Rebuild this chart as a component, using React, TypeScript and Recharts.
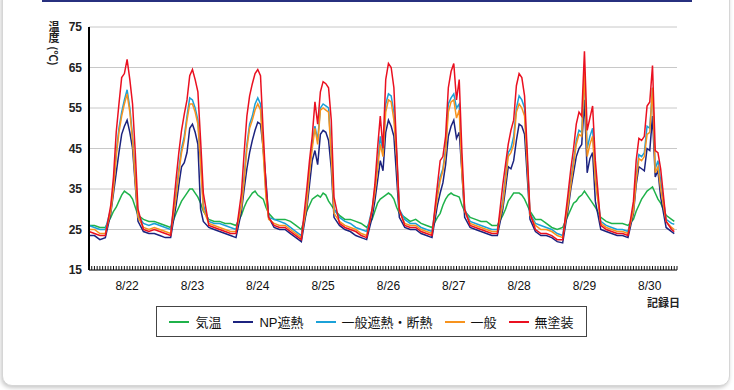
import React from 'react';
import { LineChart, Line, XAxis, YAxis, CartesianGrid } from 'recharts';

// 記録日 labels, one per day
const dayLabels = ['8/22', '8/23', '8/24', '8/25', '8/26', '8/27', '8/28', '8/29', '8/30'];
// readings per day: every 2 h at night, hourly in the daytime
const dayHours = [0, 2, 4, 6, 8, 9, 10, 11, 12, 13, 14, 15, 16, 17, 18, 20, 22];
const lastHour = 215;
const labelHour = 14;
const yTicks = [15, 25, 35, 45, 55, 65, 75];

// 気温
const airTemp = [
  26, 26, 25.5, 25.5, 28, 29.5, 30.5, 32, 33.5, 34.5, 34, 33.5, 32.5, 30.5, 28.5, 27.5, 27,
  27, 26.5, 26, 25.5, 29, 30.5, 32, 33, 34, 35, 35, 34, 33, 31.5, 29.5, 27.5, 27,
  27, 26.5, 26.5, 26, 28.5, 30.5, 32, 33, 34, 34.5, 33.5, 33, 32.5, 30.5, 29, 27.5, 27.5,
  27.5, 27, 26, 25, 29.5, 31, 32.5, 33, 33.5, 33, 34, 33.5, 32, 31, 30, 28.5, 27.5,
  27.5, 27, 26.5, 25.5, 27.5, 29.5, 31.5, 32.5, 33, 33.5, 34, 33.5, 32.5, 30.5, 29, 28, 27,
  27.5, 26.5, 26, 25.5, 28, 29, 31, 32.5, 33.5, 34, 33.5, 33.3, 33, 31, 29.5, 28, 27.5,
  27, 27, 26, 26, 28.5, 30, 32, 33, 34, 34, 34, 33.5, 32.5, 31, 29.5, 27.5, 27.5,
  26.5, 25.5, 25, 25.5, 28.5, 30, 31.5, 32, 33, 33.5, 34.5, 33.5, 32.5, 31.5, 30.5, 28, 27,
  26.5, 26.5, 26.5, 26, 27.5, 29.5, 31, 32.5, 33.5, 34.5, 35, 35.5, 34, 32.5, 31.5, 28.5, 27.5,
  27,
];

// NP遮熱
const npCoat = [
  23.5, 23.5, 22.5, 23, 29, 34, 39, 44, 48.5, 50.5, 52, 49, 45, 36, 27, 24.5, 24,
  24, 23.5, 23, 23, 31, 36, 40.5, 41.5, 44, 50, 51, 49, 46, 30, 27, 25.5, 25,
  24.5, 24, 23.5, 23, 29.5, 35, 40, 44, 47, 49.5, 51.5, 51, 45, 37, 28, 25.5, 25,
  25, 24, 23, 22, 30, 36, 42, 44.5, 41, 48.5, 49.5, 49, 47, 40, 28, 26, 25,
  24.5, 23.5, 23, 22.5, 28, 32, 37, 42, 39.5, 49, 52, 50.5, 48, 38, 28, 25.5, 25,
  25, 24, 23.5, 23, 31, 34, 36.5, 41, 48, 50.5, 52, 47.5, 49, 39, 28, 25.5, 25,
  24.5, 24, 23.5, 23.5, 30, 35, 40.5, 40, 42, 47, 51, 50.5, 48.5, 38, 27.5, 24.5, 23.5,
  23.5, 23, 22, 21.7, 30, 35, 39, 43, 45, 46, 57, 39, 42.5, 44, 32, 25, 24.5,
  24, 23.5, 23.5, 23, 29, 36, 40.5, 40, 39.5, 45, 44.5, 53, 38, 39.5, 33, 25.5, 24.5,
  24,
];

// 一般遮熱・断熱
const heatShield = [
  26, 25.5, 25, 25, 30, 36, 44, 50, 54, 57, 59.5, 55, 48, 38, 28.5, 26.5, 26,
  26.5, 26, 25.5, 25, 34, 40, 45, 48, 53, 57.5, 57, 55, 52, 42, 31, 27, 26.5,
  26.5, 26, 25.5, 25, 31, 38, 46, 51, 53, 56, 57.5, 56, 45, 34, 28, 27.5, 27,
  26.5, 25.5, 24.5, 23.5, 32, 40, 46, 50.5, 47, 55, 56, 55.5, 55, 44, 30, 28, 27,
  26.5, 25.5, 25, 24.5, 30, 35, 41, 48, 44, 56, 58.5, 58, 54, 44, 30, 27.5, 26.5,
  26.5, 25.5, 25, 24.5, 34, 38, 40, 45, 56, 57.5, 58.5, 55, 56, 40, 30, 27, 26.5,
  26, 25.5, 25, 25, 32, 38, 44, 45, 48, 55, 58, 57, 55, 42, 29, 26.5, 26,
  25.5, 25, 24, 23.5, 32, 37, 42, 47, 49.5, 49, 63, 45, 48, 50, 38, 27, 26,
  25.5, 25, 25, 24.5, 30, 38, 43.5, 43, 44, 50.5, 50, 60, 40, 42, 37, 27.5, 26.5,
  26.3,
];

// 一般
const standard = [
  25, 25, 24, 24, 29.5, 35, 43, 49, 53, 56, 58.5, 54, 47, 37, 28, 25.5, 25,
  25.5, 25, 24.5, 24, 33, 39, 44, 47, 52, 56, 56, 54, 51, 41, 30, 26.5, 26,
  25.5, 25, 24.5, 24.5, 30.5, 37, 45, 50, 52, 54.5, 56, 54.5, 44, 33, 27.5, 26.5, 26,
  26, 25, 24, 23, 31, 39, 45, 50, 46, 54.5, 55, 54.5, 54, 43, 29, 27, 26,
  25.5, 25, 24, 23.5, 29.5, 34, 40, 46, 43, 54, 57, 56.5, 52, 43, 29.5, 26.5, 26,
  26, 25, 24.5, 24, 33, 37, 39.5, 44, 54, 56.5, 57, 52.5, 54.5, 39, 29.5, 26.5, 26,
  25.5, 25, 24.5, 24.5, 31, 37, 43, 44, 46, 54, 56, 55, 53, 41, 28.5, 26, 25,
  25, 24.5, 23.5, 23, 31, 36, 41, 46, 48.5, 48, 64, 43, 46, 48, 37, 26.5, 25.5,
  25, 24.5, 24.5, 24, 29.5, 37, 42.5, 42, 43, 48.5, 49, 60, 39, 40.5, 35, 27, 25.5,
  25,
];

// 無塗装
const uncoated = [
  24.5, 24, 23.5, 23.5, 31, 38, 49, 56, 62.5, 63.5, 67, 62, 56, 44, 30, 25, 24.5,
  25, 24.5, 24, 23.5, 37.5, 44, 49.5, 53.5, 57, 63, 64.5, 62, 59, 47, 34, 26, 25.5,
  25, 24.5, 24, 24, 34, 44, 53, 58, 61, 63.5, 64.5, 63, 49, 36, 28, 26, 25.5,
  25.5, 24.5, 23.5, 22.5, 35, 42, 48, 56.5, 51, 59, 61.5, 61, 60, 52, 33, 26.5, 25.5,
  25, 24.5, 23.5, 23, 30, 36, 45, 53, 45, 62, 66, 65, 60, 45, 30, 26, 25.5,
  25.5, 24.5, 24, 23.5, 36, 42, 43, 48, 60, 64, 66, 57, 62, 44, 30, 26, 25.5,
  25, 24.5, 24, 24, 36, 41, 46, 49.5, 52, 60.5, 63.5, 62.5, 58, 44, 29, 25, 24,
  24, 23.5, 22.5, 22.5, 34, 40, 45, 51, 54, 53, 69, 49.5, 52.5, 55.5, 42, 26, 25,
  24.5, 24, 24, 23.5, 32, 42, 47.5, 47, 48, 55.5, 56.5, 65.5, 44.5, 44, 40, 27, 25,
  24.5,
];

const series = [
  { key: 'air', name: '気温', color: '#1fb24a', values: airTemp },
  { key: 'np', name: 'NP遮熱', color: '#1c237f', values: npCoat },
  { key: 'shield', name: '一般遮熱・断熱', color: '#1ba1d8', values: heatShield },
  { key: 'std', name: '一般', color: '#f7931e', values: standard },
  { key: 'bare', name: '無塗装', color: '#ea1020', values: uncoated },
];

const times = dayLabels
  .flatMap((_, d) => dayHours.map((h) => d * 24 + h))
  .concat([lastHour]);

const data = times.map((t, i) => {
  const row: Record<string, number> = { t };
  series.forEach((s) => {
    row[s.key] = s.values[i];
  });
  return row;
});

const hourTicks = Array.from({ length: dayLabels.length * 24 + 1 }, (_, i) => i);

const latin = '"Liberation Sans", Arial, sans-serif';
const cjk = '"Liberation Sans", "Noto Sans CJK JP", sans-serif';

const HourTick = (props: any) => {
  const { x, y, payload } = props;
  const h = payload.value as number;
  const day = Math.floor(h / 24);
  const showLabel = h % 24 === labelHour && day < dayLabels.length;
  return (
    <g>
      <line x1={x} x2={x} y1={y} y2={y - 4} stroke="#111" strokeWidth={1} />
      {showLabel && (
        <text x={x} y={y + 20} textAnchor="middle" fontSize={12} fill="#111" fontFamily={latin}>
          {dayLabels[day]}
        </text>
      )}
    </g>
  );
};

const titleStyle: React.CSSProperties = {
  position: 'absolute',
  fontSize: 11,
  fontWeight: 'bold',
  fontFamily: '"Noto Sans CJK JP", sans-serif',
  color: '#222',
  lineHeight: '12px',
  whiteSpace: 'nowrap',
};

export default function App() {
  return (
    <div
      style={{
        position: 'fixed',
        left: 0,
        top: 0,
        width: 734,
        height: 390,
        background: '#fff',
        overflow: 'hidden',
      }}
    >
      {/* panel frame */}
      <div
        style={{
          position: 'absolute',
          left: 2,
          top: -14,
          width: 726,
          height: 398,
          border: '1px solid #d6d6d6',
          borderRadius: 10,
          boxShadow: '-1px 2px 4px rgba(0,0,0,0.22)',
          background: '#fff',
        }}
      />
      <div
        style={{ position: 'absolute', left: 42, top: 0, width: 650, height: 2, background: '#27307f' }}
      />

      <div style={{ position: 'absolute', left: 0, top: 0 }}>
        <LineChart
          width={734}
          height={390}
          data={data}
          margin={{ top: 27, right: 57, bottom: 90, left: 49 }}
        >
          <CartesianGrid vertical={false} stroke="#c8c8c8" />
          <XAxis
            dataKey="t"
            type="number"
            domain={[0, 216]}
            ticks={hourTicks}
            interval={0}
            tickLine={false}
            tickSize={0}
            tickMargin={0}
            tick={<HourTick />}
            axisLine={{ stroke: '#111', strokeWidth: 1 }}
            height={30}
          />
          <YAxis
            domain={[15, 75]}
            ticks={yTicks}
            interval={0}
            width={40}
            tickLine={false}
            tickSize={0}
            tickMargin={7}
            axisLine={{ stroke: '#000', strokeWidth: 2 }}
            tick={{ fontSize: 12, fill: '#222', fontWeight: 'bold', fontFamily: latin }}
          />
          {series.map((s) => (
            <Line
              key={s.key}
              type="linear"
              dataKey={s.key}
              name={s.name}
              stroke={s.color}
              strokeWidth={1.5}
              dot={false}
              activeDot={false}
              isAnimationActive={false}
            />
          ))}
        </LineChart>
      </div>

      {/* axis titles */}
      <div
        style={{
          ...titleStyle,
          left: 48,
          top: 21,
          width: 12,
          writingMode: 'vertical-rl',
          textOrientation: 'upright',
        }}
      >
        温度
      </div>
      <div
        style={{
          ...titleStyle,
          left: 43,
          top: 50,
          width: 22,
          height: 12,
          textAlign: 'center',
          transform: 'rotate(90deg)',
        }}
      >
        (℃)
      </div>
      <div style={{ ...titleStyle, left: 647, top: 296 }}>記録日</div>

      {/* legend */}
      <div
        style={{
          position: 'absolute',
          left: 156,
          top: 306,
          width: 431,
          height: 31,
          border: '1px solid #444',
          boxSizing: 'border-box',
          display: 'flex',
          alignItems: 'center',
          justifyContent: 'center',
          fontFamily: cjk,
          fontSize: 13,
          color: '#111',
        }}
      >
        {series.map((s) => (
          <div key={s.key} style={{ display: 'flex', alignItems: 'center', margin: '0 6px' }}>
            <span
              style={{ display: 'inline-block', width: 20, height: 2, background: s.color, marginRight: 6 }}
            />
            <span>{s.name}</span>
          </div>
        ))}
      </div>
    </div>
  );
}
